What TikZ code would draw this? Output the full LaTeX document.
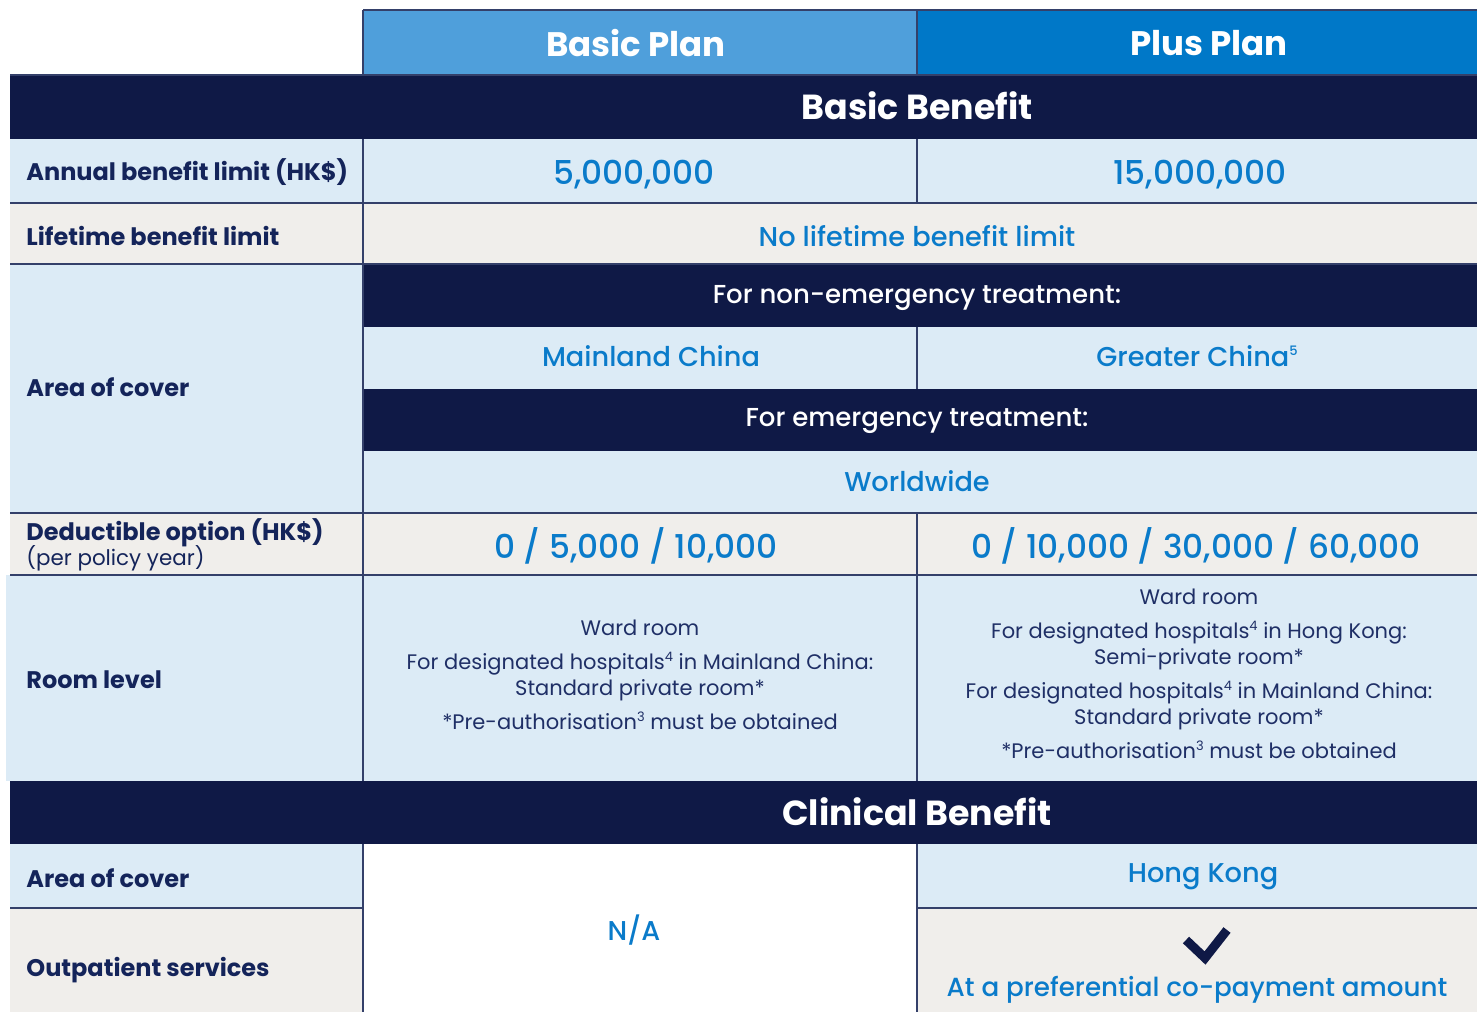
\documentclass[tikz,border=0pt]{standalone}
\usepackage{fontspec}
\setmainfont{Poppins}
\IfFontExistsTF{Poppins Medium}{\newfontfamily\medfont{Poppins Medium}}{\newfontfamily\medfont{Poppins}}

\definecolor{navy}{HTML}{0F1946}
\definecolor{headblue}{HTML}{4F9FDB}
\definecolor{plusblue}{HTML}{0078C8}
\definecolor{cellblue}{HTML}{DCEBF6}
\definecolor{cellgray}{HTML}{F0EEEB}
\definecolor{valblue}{HTML}{0A7BCA}
\definecolor{labelnavy}{HTML}{14245A}
\definecolor{roomnavy}{HTML}{1F2F66}
\definecolor{rulecol}{HTML}{34406A}

\newcommand{\supnum}[1]{\raisebox{0.75ex}{\fontsize{6.5}{6.5}\selectfont #1}}

\tikzset{
  rule/.style={draw=rulecol, line width=0.6pt},
  lbl/.style={anchor=west, inner sep=0pt, text=labelnavy, font=\bfseries\fontsize{12}{14}\selectfont},
  val/.style={inner sep=0pt, text=valblue, font=\medfont\fontsize{13.6}{16}\selectfont},
  numval/.style={inner sep=0pt, text=valblue, font=\medfont\fontsize{16.4}{19}\selectfont},
  hdrtxt/.style={inner sep=0pt, text=white, font=\bfseries\fontsize{17}{20}\selectfont},
  bartxt/.style={inner sep=0pt, text=white, font=\bfseries\fontsize{17.4}{20}\selectfont},
  subbar/.style={inner sep=0pt, text=white, font=\medfont\fontsize{13}{15}\selectfont},
  roomtxt/.style={inner sep=0pt, text=roomnavy, align=center, font=\fontsize{10.5}{13}\selectfont},
}

\begin{document}
\begin{tikzpicture}[x=0.5pt,y=-0.5pt]

\useasboundingbox (0,0) rectangle (1482,1012);
\fill[white] (0,0) rectangle (1482,1012); % Background

% Cell fills
\fill[headblue] (363,10) rectangle (917,75); % Basic Plan header
\fill[plusblue] (917,10) rectangle (1477,75); % Plus Plan header
\fill[navy] (10,75) rectangle (1477,139); % Basic Benefit bar
\fill[cellblue] (10,139) rectangle (1477,203); % Annual limit
\fill[cellgray] (10,203) rectangle (1477,264); % Lifetime limit
\fill[cellblue] (10,264) rectangle (363,513); % Area of cover - label
\fill[navy] (363,264) rectangle (1477,327); % Non-emergency bar
\fill[cellblue] (363,327) rectangle (1477,389); % Mainland / Greater China
\fill[navy] (363,389) rectangle (1477,451); % Emergency bar
\fill[cellblue] (363,451) rectangle (1477,513); % Worldwide
\fill[cellgray] (10,513) rectangle (1477,575); % Deductible
\fill[cellblue] (6,575) rectangle (1477,781); % Room level
\fill[navy] (10,781) rectangle (1477,844); % Clinical Benefit bar
\fill[cellblue] (10,844) rectangle (363,908); % Clinical area of cover - label
\fill[cellblue] (917,844) rectangle (1477,908); % Hong Kong
\fill[cellgray] (10,908) rectangle (363,1012); % Outpatient - label
\fill[cellgray] (917,908) rectangle (1477,1012); % Outpatient - Plus

% Rules
\draw[rule] (363,10) -- (1477,10);
\draw[rule] (10,75) -- (1477,75);
\draw[rule] (10,203) -- (1477,203);
\draw[rule] (10,264) -- (1477,264);
\draw[rule] (10,513) -- (1477,513);
\draw[rule] (10,575) -- (1477,575);
\draw[rule] (10,908) -- (363,908);
\draw[rule] (917,908) -- (1477,908);
\draw[rule] (363,10) -- (363,75);
\draw[rule] (363,139) -- (363,781);
\draw[rule] (363,844) -- (363,1012);
\draw[rule] (917,10) -- (917,75);
\draw[rule] (917,139) -- (917,203);
\draw[rule] (917,327) -- (917,389);
\draw[rule] (917,513) -- (917,781);
\draw[rule] (917,844) -- (917,1012);

% Headers and bars
\node[hdrtxt] (hdrbasic) at (636,43) {Basic Plan};
\node[hdrtxt] (hdrplus) at (1209,43) {Plus Plan};
\node[bartxt] (barbasic) at (917,106) {Basic Benefit};
\node[subbar] (barnonemerg) at (917,298) {For non-emergency treatment:};
\node[subbar] (baremerg) at (917,421) {For emergency treatment:};
\node[bartxt] (barclinical) at (917,812) {Clinical Benefit};

% Row labels
\node[lbl] (lblannual) at (26,172) {Annual benefit limit (HK\$)};
\node[lbl] (lbllifetime) at (26,236) {Lifetime benefit limit};
\node[lbl] (lblarea) at (26,387) {Area of cover};
\node[lbl] (lbldeduct) at (26,533) {Deductible option (HK\$)};
\node[lbl, font=\fontsize{10.7}{13}\selectfont] (lblpolicy) at (26,558) {(per policy year)};
\node[lbl] (lblroom) at (26,680) {Room level};
\node[lbl] (lblclinarea) at (26,878) {Area of cover};
\node[lbl] (lbloutpat) at (26,970) {Outpatient services};

% Values
\node[numval] (annualbasic) at (634,175) {5,000,000};
\node[numval] (annualplus) at (1200,175) {15,000,000};
\node[val] (lifetime) at (917,236) {No lifetime benefit limit};
\node[val] (mainland) at (651,356) {Mainland China};
\node[val] (greater) at (1197,356) {Greater China\supnum{5}};
\node[val] (worldwide) at (917,481) {Worldwide};
\node[numval] (deductbasic) at (636,546) {0 / 5,000 / 10,000};
\node[numval] (deductplus) at (1196,546) {0 / 10,000 / 30,000 / 60,000};

% Room level
\node[roomtxt] (roombasic) at (640,675) {Ward room\\[4pt]
  For designated hospitals\supnum{4} in Mainland China:\\
  Standard private room*\\[4pt]
  *Pre-authorisation\supnum{3} must be obtained};
\node[roomtxt] (roomplus) at (1199,674) {Ward room\\[4pt]
  For designated hospitals\supnum{4} in Hong Kong:\\
  Semi-private room*\\[4pt]
  For designated hospitals\supnum{4} in Mainland China:\\
  Standard private room*\\[4pt]
  *Pre-authorisation\supnum{3} must be obtained};

% Clinical benefit
\node[val] (clinna) at (634,930) {N/A};
\node[val] (clinhk) at (1203,877) {Hong Kong};
\coordinate (tickl) at (1186,940);
\coordinate (tickm) at (1205,958);
\coordinate (tickr) at (1227,930);
\draw[navy, line width=4.5pt, miter limit=10] (tickl) -- (tickm) -- (tickr); % Tick
\node[val, font=\medfont\fontsize{13.1}{16}\selectfont] (clinpay) at (1197,990) {At a preferential co-payment amount};

\end{tikzpicture}
\end{document}
